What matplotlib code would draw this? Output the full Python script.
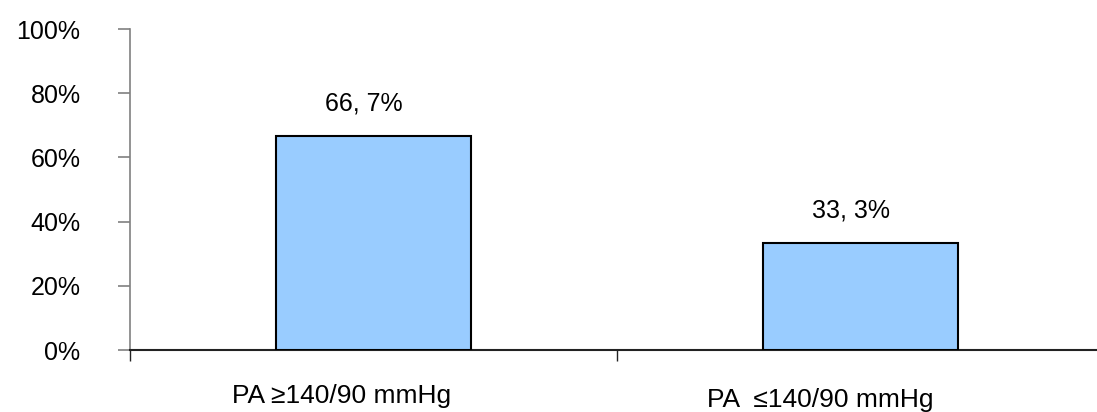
# Bar chart: share of patients by blood pressure group.
import matplotlib
matplotlib.use('Agg')
import matplotlib.pyplot as plt
import numpy as np

plt.rcParams['font.family'] = ['Liberation Sans', 'DejaVu Sans']

# Data.
categories = ['PA \u2265140/90 mmHg', 'PA  \u2264140/90 mmHg']
values = [66.7, 33.3]
value_labels = ['66, 7%', '33, 3%']
y_ticks = [0, 20, 40, 60, 80, 100]
y_tick_labels = ['0%', '20%', '40%', '60%', '80%', '100%']

fig = plt.figure(figsize=(10.97, 4.12), dpi=100)
# axes spans two category slots of ~487 px, the right edge falls off the figure
ax = fig.add_axes([130 / 1097, 62 / 412, 974 / 1097, 321 / 412])

x = np.arange(len(categories))
ax.bar(x, values, width=0.4, color='#99CCFF', edgecolor='black', linewidth=1.5, zorder=3)

ax.set_xlim(-0.5, 1.5)
ax.set_ylim(0, 100)

# value labels above bars
for xi, v, lab in zip(x, values, value_labels):
	ax.annotate(lab, xy=(xi, v), xytext=(-7, 15), textcoords='offset points',
		ha='center', va='bottom', fontsize=18)

# category labels under the axis
ax.set_xticks([-0.5, 0.5, 1.5])
ax.set_xticklabels([])
label_offsets = [(-23, -38.5), (-29, -41)]
for xi, lab, off in zip(x, categories, label_offsets):
	ax.annotate(lab, xy=(xi, 0), xytext=off, textcoords='offset points',
		ha='center', va='baseline', fontsize=19, annotation_clip=False)

ax.set_yticks(y_ticks)
ax.set_yticklabels(y_tick_labels, fontsize=18)

ax.spines['top'].set_visible(False)
ax.spines['right'].set_visible(False)
ax.spines['left'].set_color('#808080')
ax.spines['left'].set_linewidth(1.2)
ax.spines['bottom'].set_color('#222222')
ax.spines['bottom'].set_linewidth(1.5)

ax.tick_params(axis='y', direction='out', length=8.6, width=1.2, color='#808080', pad=27)
ax.tick_params(axis='x', direction='out', length=8, width=1.0, color='#222222')

fig.savefig('out.png', dpi=100)
